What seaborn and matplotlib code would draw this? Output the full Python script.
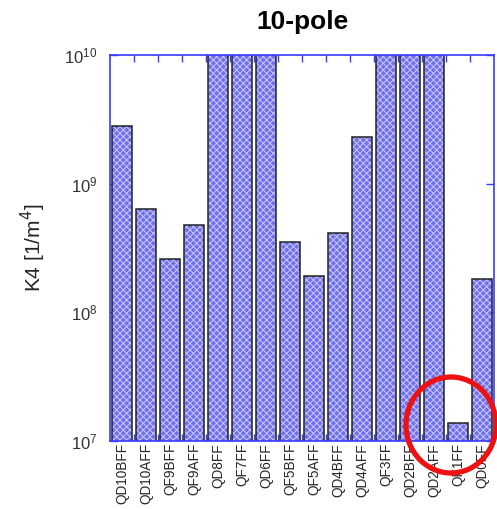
import matplotlib
matplotlib.use("Agg")
import matplotlib.pyplot as plt
import seaborn as sns
import pandas as pd
import numpy as np
from matplotlib.patches import Ellipse, Rectangle
from matplotlib.ticker import FixedLocator, NullLocator

magnets = ['QD10BFF', 'QD10AFF', 'QF9BFF', 'QF9AFF', 'QD8FF', 'QF7FF', 'QD6FF',
           'QF5BFF', 'QF5AFF', 'QD4BFF', 'QD4AFF', 'QF3FF', 'QD2BFF', 'QD2AFF',
           'QF1FF', 'QD0FF']
# bars above 1e10 are clipped by the axis limit
k4 = [2.8e9, 6.3e8, 2.6e8, 4.8e8, 1e11, 1e11, 1e11,
      3.5e8, 1.9e8, 4.15e8, 2.3e9, 1e11, 1e11, 1e11,
      1.38e7, 1.8e8]

df = pd.DataFrame({'magnet': magnets, 'K4': k4})

sns.set_style('white')
plt.rcParams['font.family'] = ['Liberation Sans', 'DejaVu Sans']
plt.rcParams['hatch.linewidth'] = 0.7

fig = plt.figure(figsize=(4.97, 5.09), dpi=100)
ax = fig.add_axes([110/497, 1-441/509, 384/497, 386/509])

sns.barplot(data=df, x='magnet', y='K4', color='#7070ec', saturation=1,
            width=0.82, edgecolor='#c8c8fa', linewidth=0, ax=ax)

ax.set_yscale('log')
ax.set_ylim(1e7, 1e10)
ax.set_xlim(-0.5, len(magnets) - 0.5)
ax.yaxis.set_minor_locator(NullLocator())

# checker-like fill via light hatch, then dark outline on top
for p in list(ax.patches):
    p.set_hatch('xxxxx')
    outline = Rectangle(p.get_xy(), p.get_width(), p.get_height(), fill=False,
                        edgecolor='#222222', linewidth=1.1, zorder=p.get_zorder() + 0.1)
    ax.add_patch(outline)

blue = '#3a3aff'
for s in ax.spines.values():
    s.set_color(blue)
    s.set_linewidth(1.2)
    s.set_visible(True)
    s.set_zorder(5)

ax.tick_params(axis='y', which='major', direction='in', length=6, width=1,
               color=blue, left=True, right=True, labelsize=12, labelcolor='#333333', pad=9)
ax.xaxis.set_minor_locator(FixedLocator(np.arange(0.5, len(magnets) - 1, 1.0)))
ax.tick_params(axis='x', which='minor', direction='in', length=5, width=1,
               color=blue, top=True, bottom=True)
ax.tick_params(axis='x', which='major', length=0, labelsize=9.8, labelrotation=90, pad=1.5)
for lbl in ax.get_xticklabels():
    lbl.set_verticalalignment('top')

ax.set_xlabel('')
ax.set_ylabel('K4 [1/m$^4$]', fontsize=15, labelpad=12)
ax.set_title('10-pole', fontsize=19, fontweight='bold', pad=19, color='black')

circle = Ellipse((451/497, 1-425/509), 90/497, 96/509, transform=fig.transFigure,
                 fill=False, edgecolor='#ee1111', linewidth=3.8, clip_on=False)
fig.patches.append(circle)

fig.savefig('out.png', dpi=100)
